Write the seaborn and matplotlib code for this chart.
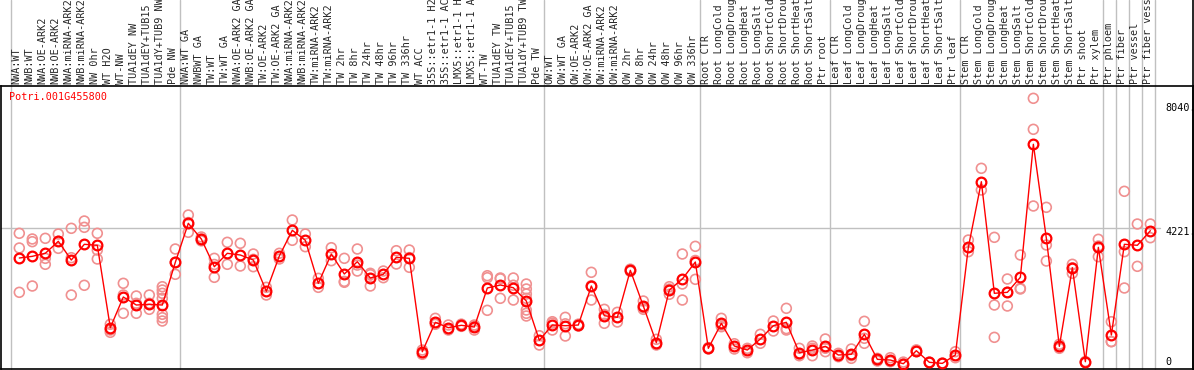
import matplotlib
matplotlib.use("Agg")
import matplotlib.pyplot as plt
import matplotlib.transforms as mtransforms
from matplotlib.lines import Line2D
import pandas as pd
import seaborn as sns

# Gene and sample names
gene = "Potri.001G455800"
samples = [
    "NWA:WT", "NWB:WT", "NWA:OE-ARK2", "NWB:OE-ARK2", "NWA:miRNA-ARK2", "NWB:miRNA-ARK2",
    "NW 0hr", "WT H2O", "WT-NW", "TUA1dEY NW", "TUA1dEY+TUB15 NW", "TUA1dY+TUB9 NW", "Pde NW",
    "NWA:WT GA", "NWBWT GA", "TW:WT", "TW:WT GA", "NWA:OE-ARK2 GA", "NWB:OE-ARK2 GA",
    "TW:OE-ARK2", "TW:OE-ARK2 GA", "NWA:miRNA-ARK2", "NWB:miRNA-ARK2", "TW:miRNA-ARK2",
    "TW:miRNA-ARK2 GA", "TW 2hr", "TW 8hr", "TW 24hr", "TW 48hr", "TW 96hr", "TW 336hr",
    "WT ACC", "35S::etr1-1 H2O", "35S::etr1-1 ACC", "LMX5::etr1-1 H2O", "LMX5::etr1-1 ACC",
    "WT-TW", "TUA1dEY TW", "TUA1dEY+TUB15 TW", "TUA1dY+TUB9 TW", "Pde TW",
    "OW:WT", "OW:WT GA", "OW:OE-ARK2", "OW:OE-ARK2 GA", "OW:miRNA-ARK2", "OW:miRNA-ARK2 GA",
    "OW 2hr", "OW 8hr", "OW 24hr", "OW 48hr", "OW 96hr", "OW 336hr",
    "Root CTR", "Root LongCold", "Root LongDrought", "Root LongHeat", "Root LongSalt",
    "Root ShortCold", "Root ShortDrought", "Root ShortHeat", "Root ShortSalt", "Ptr root",
    "Leaf CTR", "Leaf LongCold", "Leaf LongDrought", "Leaf LongHeat", "Leaf LongSalt",
    "Leaf ShortCold", "Leaf ShortDrought", "Leaf ShortHeat", "Leaf ShortSalt", "Ptr leaf",
    "Stem CTR", "Stem LongCold", "Stem LongDrought", "Stem LongHeat", "Stem LongSalt",
    "Stem ShortCold", "Stem ShortDrought", "Stem ShortHeat", "Stem ShortSalt", "Ptr shoot",
    "Ptr xylem", "Ptr phloem", "Ptr fiber", "Ptr vessel", "Ptr fiber vessel",
]

# first sample of each group (separator lines)
group_starts = [0, 13, 41, 53, 63, 73, 84, 85, 86, 87, 88]

# mean expression per sample
means = [
    3297, 3349, 3443, 3816, 3234, 3723, 3692, 1129, 2084, 1835, 1857, 1835, 3163,
    4376, 3888, 3026, 3443, 3390, 3234, 2261, 3359, 4158, 3847, 2510, 3421, 2799,
    3182, 2675, 2790, 3318, 3287, 383, 1297, 1129, 1204, 1151, 2364, 2457, 2373,
    1959, 737,
    1213, 1191, 1213, 2426, 1502, 1452, 2914, 1804, 662, 2301, 2644, 3172,
    488, 1266, 560, 435, 778, 1191, 1297, 351, 435, 550,
    280, 302, 924, 146, 124, 9, 414, 53, 20, 280,
    3629, 5670, 2199, 2230, 2696, 6833, 3909, 550, 2995, 72, 3629,
    902, 3723, 3692, 4146,
]

# replicate values per sample
replicates = [
    [4065, 3608, 2230], [3888, 3804, 2426], [3909, 3287, 3101], [4043, 3816, 3598],
    [4220, 3306, 2146], [4447, 4251, 2448], [4065, 3545, 3266], [1235, 1057, 986],
    [2510, 2146, 1577], [2115, 1888, 1577], [2146, 1888, 1701],
    [2404, 2301, 2199, 2043, 1546, 1440, 1337], [3577, 3163, 2790],
    [4634, 4400, 4096], [3950, 3880, 3830], [3287, 3095, 2696], [3785, 3101],
    [3754, 3048], [3421, 3255, 3026], [2385, 2146], [3443, 3266], [4478, 3847],
    [4043, 3648], [2665, 2385], [3617, 3213], [3287, 2570, 2541], [3577, 3077, 2892],
    [2821, 2778, 2426], [2892, 2684], [3524, 3110], [3545, 3310, 3007], [435, 302],
    [1421, 1235], [1213, 1057], [1240, 1170], [1213, 1180, 1057],
    [2746, 2684, 1670], [2675, 2650, 2043], [2675, 2450, 1990],
    [2488, 2333, 2177, 2043, 1679, 1577, 1493], [880, 591],
    [1316, 1270, 1057], [1452, 1250, 871], [1240, 1180], [2852, 2436, 1990],
    [1701, 1540, 1266], [1608, 1306], [2950, 2880], [1959, 1750, 1701], [768, 591],
    [2404, 2330, 2168], [3421, 2488, 1990], [3660, 3220, 2634],
    [510, 470], [1421, 1215, 1160], [631, 467], [488, 351], [924, 644], [1337, 1026],
    [1732, 1100, 1057], [488, 310, 258], [560, 490, 258], [778, 490, 383],
    [333, 227], [467, 260, 177], [1328, 800, 644], [177, 93], [196, 72], [60, 0],
    [440, 390], [60, 45], [30, 10], [383, 196],
    [3856, 3493], [6086, 5411], [3940, 1835, 830], [2644, 2230, 1804],
    [3390, 2354, 2333], [8263, 7299, 4914], [4873, 3701, 3203], [613, 488],
    [3101, 2995, 2821], [70, 75], [3878, 3670, 3337],
    [1316, 700, 694], [5371, 3493, 2364], [4354, 3038], [4354, 3928],
]

axis_labels = ["8040.", "4221.", "0"]
axis_values = [8040, 4221, 0]

rep_df = pd.DataFrame(
    [(i, v) for i, reps in enumerate(replicates) for v in reps],
    columns=["sample", "value"],
)
mean_df = pd.DataFrame({"sample": range(len(means)), "value": means})

sns.set_style("white")
plt.rcParams["font.family"] = ["DejaVu Sans Mono", "DejaVu Sans"]

fig = plt.figure(figsize=(11.94, 3.70), dpi=100)
ax = fig.add_axes([1 / 1194, 1 / 370, 1192 / 1194, 283 / 370])

grey = "#c0c0c0"
for g in group_starts:
    ax.axvline(g - 0.64, ymin=0, ymax=1 + 86 / 283, color=grey, lw=1, clip_on=False, zorder=0)
ax.axhline(4221, xmax=(1160 - 1) / 1192, color=grey, lw=1, zorder=0)

# replicates
sns.scatterplot(data=rep_df, x="sample", y="value", ax=ax, marker="o", s=50,
                facecolor="none", edgecolor="#f09090", linewidth=1.2, zorder=2, legend=False)
# means
sns.lineplot(data=mean_df, x="sample", y="value", ax=ax, color="red", lw=1,
             marker="o", markersize=7, markerfacecolor="none", markeredgecolor="red",
             markeredgewidth=1.6, zorder=3, legend=False)

ax.set_xlim(-1.408, 90.28)
ax.set_ylim(-155, 8646)
ax.set_xlabel("")
ax.set_ylabel("")
ax.set_yticks([])

ax.xaxis.tick_top()
ax.set_xticks(range(len(samples)))
ax.set_xticklabels(samples, rotation=90, fontsize=7.3)
ax.tick_params(axis="x", length=0, pad=1.5)
shift = mtransforms.ScaledTranslation(-2.6 / 100, 0, fig.dpi_scale_trans)
for lab in ax.get_xticklabels():
    lab.set_transform(lab.get_transform() + shift)

for sp in ax.spines.values():
    sp.set_color("black")
    sp.set_linewidth(1.2)
fig.add_artist(Line2D([1193.3 / 1194] * 2, [0, 1], color="black", lw=1.2))

ax.text((9.3 - 1) / 1192, (369 - 97) / 283, gene, transform=ax.transAxes,
        color="red", fontsize=7.3, ha="left", va="center")

# right-hand value labels sit slightly off their levels in the reference
label_nudge = [-3, -3.7, 2.3]
ytr = mtransforms.blended_transform_factory(ax.transAxes, ax.transData)
for lab, val, dy in zip(axis_labels, axis_values, label_nudge):
    tr = ytr + mtransforms.ScaledTranslation(0, dy / 100, fig.dpi_scale_trans)
    ax.text((1165 - 1) / 1192, val, lab, transform=tr, fontsize=7.3,
            ha="left", va="center", color="black")

fig.savefig("out.png", dpi=100)
